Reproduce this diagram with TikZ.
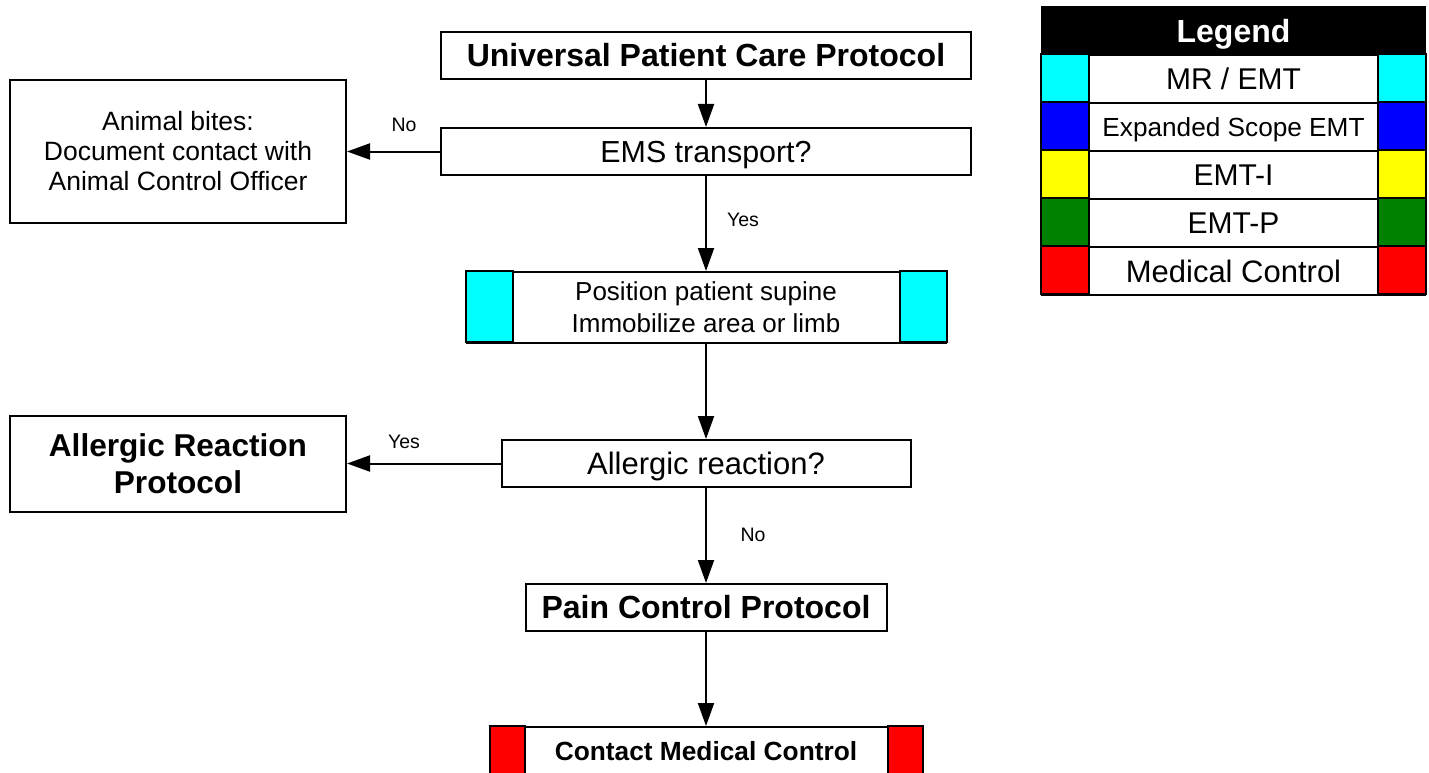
\documentclass[tikz,border=0pt]{standalone}
\usepackage{fontspec}
\setmainfont{Liberation Sans}
\usetikzlibrary{arrows.meta}
\definecolor{lgcyan}{RGB}{0,255,255}
\definecolor{lgblue}{RGB}{0,0,255}
\definecolor{lgyellow}{RGB}{255,255,0}
\definecolor{lggreen}{RGB}{0,128,0}
\definecolor{lgred}{RGB}{255,0,0}
\begin{document}
\begin{tikzpicture}[x=1pt,y=-1pt,
  box/.style={draw, line width=2pt, fill=white, inner sep=0pt, align=center},
  oneline/.style={text height=#1, text depth=0pt},
  arr/.style={line width=2pt, -{Triangle[length=23pt,width=16pt]}},
  lbl/.style={inner sep=0pt, font=\fontsize{19.5}{22}\selectfont},
  lgrow/.style={draw, line width=2pt, fill=white, inner sep=0pt, minimum width=383pt, minimum height=48pt}
]
\useasboundingbox (0,0) rectangle (1429,773);
\fill[white] (0,0) rectangle (1429,773);

% main flow
\node[box, oneline=23pt, minimum width=530pt, minimum height=47pt, font=\bfseries\fontsize{32}{36}\selectfont] (univ) at (706,55.5) {Universal Patient Care Protocol};
\node[box, oneline=21.8pt, minimum width=530pt, minimum height=47pt, font=\fontsize{30.4}{34}\selectfont] (ems) at (706,151.5) {EMS transport?};
\node[box, minimum width=336pt, minimum height=143pt, font=\fontsize{26.5}{30}\selectfont] (animal) at (178,151.5) {Animal bites:\\Document contact with\\Animal Control Officer};

\node[box, minimum width=479pt, minimum height=71pt, font=\fontsize{26}{32}\selectfont] (pos) at (706,307.5) {Position patient supine\\Immobilize area or limb};
\draw[line width=2pt, fill=lgcyan] (pos.north west) rectangle ++(47,71);
\draw[line width=2pt, fill=lgcyan] (pos.north east) rectangle ++(-47,71);

\node[box, oneline=22.2pt, minimum width=409pt, minimum height=47pt, font=\fontsize{31}{36}\selectfont] (allq) at (706,463.5) {Allergic reaction?};
\node[box, minimum width=336pt, minimum height=96pt, font=\bfseries\fontsize{31.6}{37}\selectfont] (arp) at (178,463.5) {Allergic Reaction\\Protocol};

\node[box, oneline=22.9pt, minimum width=361pt, minimum height=47pt, font=\bfseries\fontsize{32}{36}\selectfont] (pain) at (706,607.5) {Pain Control Protocol};

\node[box, oneline=18.8pt, minimum width=431pt, minimum height=48pt, font=\bfseries\fontsize{26.3}{30}\selectfont] (cmc) at (706,751) {Contact Medical Control};
\draw[line width=2pt, fill=lgred] (cmc.north west) rectangle ++(35,48);
\draw[line width=2pt, fill=lgred] (cmc.north east) rectangle ++(-35,48);

% connectors
\draw[arr] (univ) -- (ems);
\draw[arr] (ems) -- (animal);
\draw[arr] (ems) -- (pos);
\draw[arr] (pos) -- (allq);
\draw[arr] (allq) -- (arp);
\draw[arr] (allq) -- (pain);
\draw[arr] (pain) -- (cmc);

\node[lbl] (l1) at (404,125) {No};
\node[lbl] (l2) at (743,220) {Yes};
\node[lbl] (l3) at (404,442) {Yes};
\node[lbl] (l4) at (753,535) {No};

% legend
\node[lgrow, oneline=22.9pt, fill=black, text=white, font=\bfseries\fontsize{32}{36}\selectfont] (lh) at (1233.5,31) {Legend};
\node[lgrow, oneline=21.5pt, font=\fontsize{30}{34}\selectfont] (r1) at (1233.5,79) {MR / EMT};
\node[lgrow, oneline=18.8pt, font=\fontsize{26.2}{30}\selectfont] (r2) at (1233.5,127) {Expanded Scope EMT};
\node[lgrow, oneline=21.5pt, font=\fontsize{30}{34}\selectfont] (r3) at (1233.5,175) {EMT-I};
\node[lgrow, oneline=21.5pt, font=\fontsize{30}{34}\selectfont] (r4) at (1233.5,223) {EMT-P};
\node[lgrow, oneline=22.2pt, font=\fontsize{31}{35}\selectfont] (r5) at (1233.5,271) {Medical Control};
\foreach \r/\c in {r1/lgcyan, r2/lgblue, r3/lgyellow, r4/lggreen, r5/lgred}{
  \draw[line width=2pt, fill=\c] (\r.north west) rectangle ++(48,48);
  \draw[line width=2pt, fill=\c] (\r.north east) rectangle ++(-48,48);
}
\end{tikzpicture}
\end{document}
